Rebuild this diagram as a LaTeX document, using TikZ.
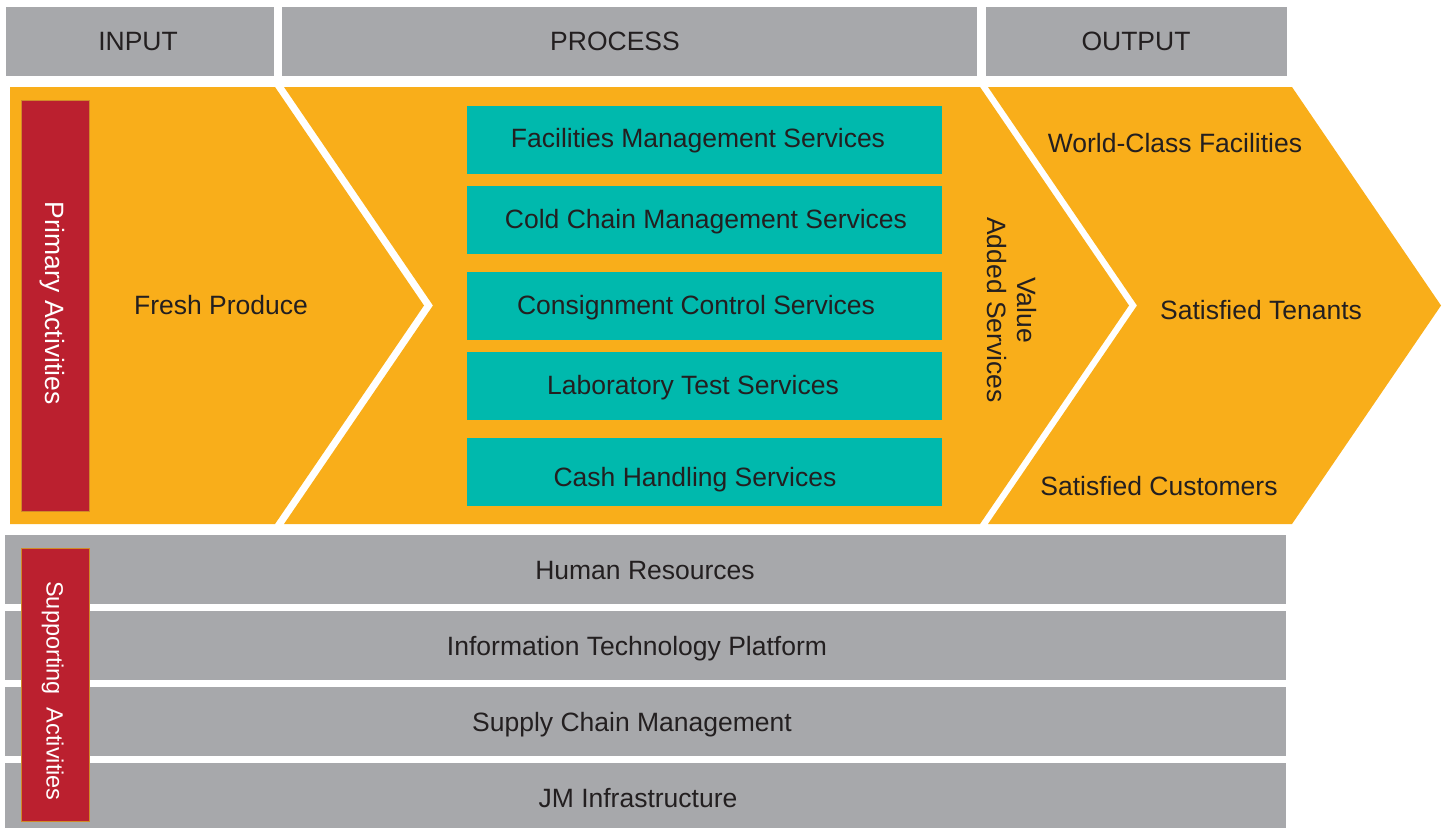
\documentclass[tikz,border=0pt]{standalone}
\usepackage{fontspec}
\setmainfont{Liberation Sans}
\definecolor{bandgray}{HTML}{A7A8AB}
\definecolor{chevron}{HTML}{F9AE1A}
\definecolor{svcteal}{HTML}{00B9AD}
\definecolor{tagred}{HTML}{BB202F}
\definecolor{tagedge}{HTML}{D08A2A}
\definecolor{ink}{HTML}{231F20}
\begin{document}
\begin{tikzpicture}[x=1bp,y=-1bp,
  graybox/.style={fill=bandgray, draw=none, inner sep=0pt, minimum height=69bp},
  svcbox/.style={fill=svcteal, draw=none, inner sep=0pt, minimum width=475bp, minimum height=68bp},
  tagbox/.style={fill=tagred, draw=tagedge, line width=0.8bp, inner sep=0pt, minimum width=68bp},
  lbl/.style={inner sep=0pt, text=ink, font=\fontsize{26.5bp}{31bp}\selectfont,
    text height=19bp, text depth=0pt, anchor=center},
  taglbl/.style={lbl, text=white, rotate=-90}]
\useasboundingbox (0,0) rectangle (1445,828);

% header row
\node[graybox, minimum width=268bp] (hin)  at (140,41.5) {};
\node[graybox, minimum width=695bp] (hpro) at (629.5,41.5) {};
\node[graybox, minimum width=301bp] (hout) at (1136.5,41.5) {};
\node[lbl] (tin)  at (138,41) {INPUT};
\node[lbl] (tpro) at (615,41) {PROCESS};
\node[lbl] (tout) at (1136,41) {OUTPUT};

% primary activity chevrons
\fill[chevron] (10,87) -- (275,87) -- (424,305.5) -- (275,524) -- (10,524) -- cycle;
\fill[chevron] (284,87) -- (980,87) -- (1129,305.5) -- (980,524) -- (284,524) -- (433,305.5) -- cycle;
\fill[chevron] (988,87) -- (1292,87) -- (1441,305.5) -- (1292,524) -- (988,524) -- (1137,305.5) -- cycle;

\node[tagbox, minimum height=411bp] (prim) at (55,305.5) {};
\node[taglbl] (tprim) at (55,303) {Primary Activities};
\node[lbl] (fresh) at (221,305) {Fresh Produce};

% services
\node[svcbox] (s1) at (704.5,139.5) {};
\node[svcbox] (s2) at (704.5,219.5) {};
\node[svcbox] (s3) at (704.5,305.5) {};
\node[svcbox] (s4) at (704.5,385.5) {};
\node[svcbox] (s5) at (704.5,471.5) {};
\node[lbl] (t1) at (698,138) {Facilities Management Services};
\node[lbl] (t2) at (706,219) {Cold Chain Management Services};
\node[lbl] (t3) at (696,305) {Consignment Control Services};
\node[lbl] (t4) at (693,385) {Laboratory Test Services};
\node[lbl] (t5) at (695,477) {Cash Handling Services};

\node[inner sep=0pt, text=ink, font=\fontsize{26.5bp}{30bp}\selectfont, align=center, rotate=-90]
  (vas) at (1012,310) {Value\\Added Services};

% outputs
\node[lbl] (o1) at (1175,143) {World-Class Facilities};
\node[lbl] (o2) at (1261,310) {Satisfied Tenants};
\node[lbl] (o3) at (1159,486) {Satisfied Customers};

% supporting activity bands
\node[graybox, minimum width=1281bp] (b1) at (645.5,569.5) {};
\node[graybox, minimum width=1281bp] (b2) at (645.5,645.5) {};
\node[graybox, minimum width=1281bp] (b3) at (645.5,721.5) {};
\node[graybox, minimum width=1281bp, minimum height=65bp] (b4) at (645.5,795.5) {};
\node[lbl] (u1) at (645,570) {Human Resources};
\node[lbl] (u2) at (637,646) {Information Technology Platform};
\node[lbl] (u3) at (632,722) {Supply Chain Management};
\node[lbl] (u4) at (638,798) {JM Infrastructure};

\node[tagbox, minimum height=273bp] (supp) at (55,684.5) {};
\node[taglbl, font=\fontsize{23.5bp}{28bp}\selectfont, text height=17bp] (tsupp) at (55,691)
  {Supporting~ Activities};
\end{tikzpicture}
\end{document}
